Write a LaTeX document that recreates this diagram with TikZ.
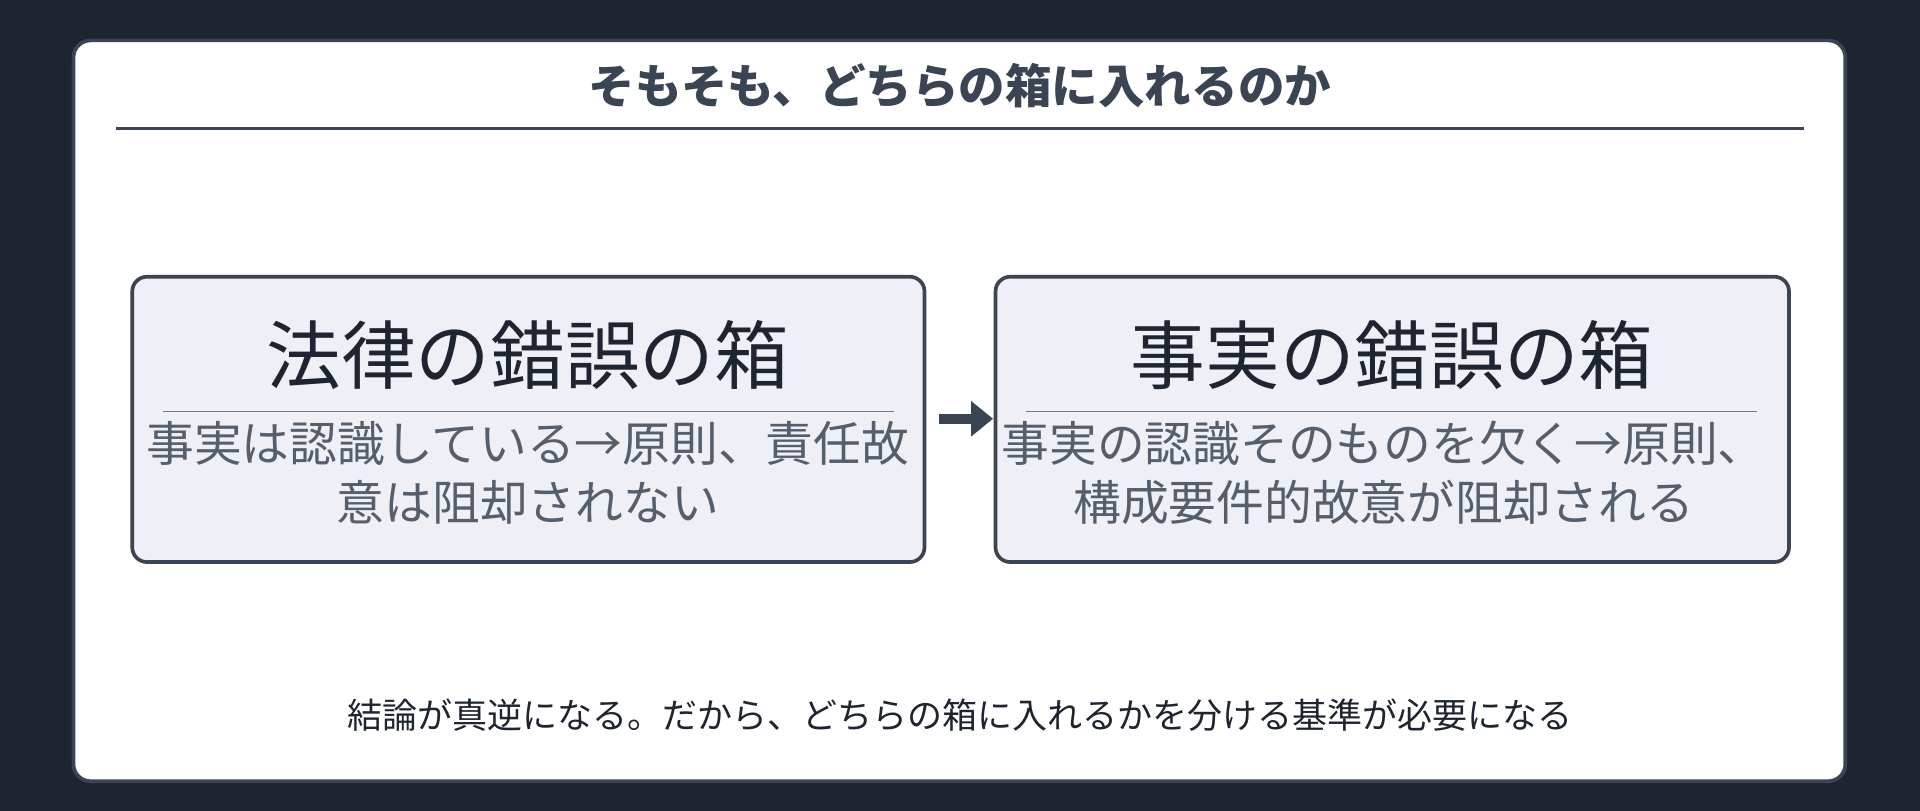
\documentclass[tikz,border=0pt]{standalone}
\usepackage{fontspec}
\setmainfont{Noto Sans CJK JP}
\usetikzlibrary{positioning,arrows.meta}
\definecolor{bgdark}{HTML}{1E2530}
\definecolor{ink}{HTML}{3A4452}
\definecolor{boxfill}{HTML}{EEF0F5}
\definecolor{subink}{HTML}{555E6B}
\begin{document}
\begin{tikzpicture}[x=0.5pt,y=-0.5pt]
	\tikzset{box/.style={draw=ink, fill=boxfill, line width=1.5pt, rounded corners=6pt},
		head/.style={font=\fontsize{30.5}{36}\selectfont, text=bgdark},
		sub/.style={font=\fontsize{19.5}{24}\selectfont, text=subink, align=center},
		rule/.style={draw=ink!70, line width=0.6pt}};

	\useasboundingbox (0,0) rectangle (1568,662);
	\fill[bgdark] (0,0) rectangle (1568,662);
	\draw[draw=ink, fill=white, line width=1.5pt, rounded corners=7pt] (60,33) rectangle (1507,638);

	\node[font=\bfseries\fontsize{19}{23}\selectfont, text=ink] (title) at (784,70) {そもそも、どちらの箱に入れるのか};
	\draw[ink, line width=1pt] (95,105) -- (1473,105);

	% left box
	\draw[box] (108,226) rectangle (755,459);
	\node[head] (lawhead) at (431,290) {法律の錯誤の箱};
	\draw[rule] (133,336) -- (730,336);
	\node[sub] (lawsub) at (431,386) {事実は認識している→原則、責任故\\意は阻却されない};

	% right box
	\draw[box] (813,226) rectangle (1461,459);
	\node[head] (facthead) at (1137,290) {事実の錯誤の箱};
	\draw[rule] (838,336) -- (1435,336);
	\node[sub] (factsub) at (1130,386) {事実の認識そのものを欠く→原則、\\構成要件的故意が阻却される};

	\coordinate (arrA) at (767,342);
	\coordinate (arrB) at (811,342);
	\draw[ink, line width=4pt, -{Triangle[length=9pt,width=14pt]}] (arrA) -- (arrB);

	\node[font=\fontsize{14.3}{18}\selectfont, text=bgdark] (concl) at (784,584) {結論が真逆になる。だから、どちらの箱に入れるかを分ける基準が必要になる};
\end{tikzpicture}
\end{document}
